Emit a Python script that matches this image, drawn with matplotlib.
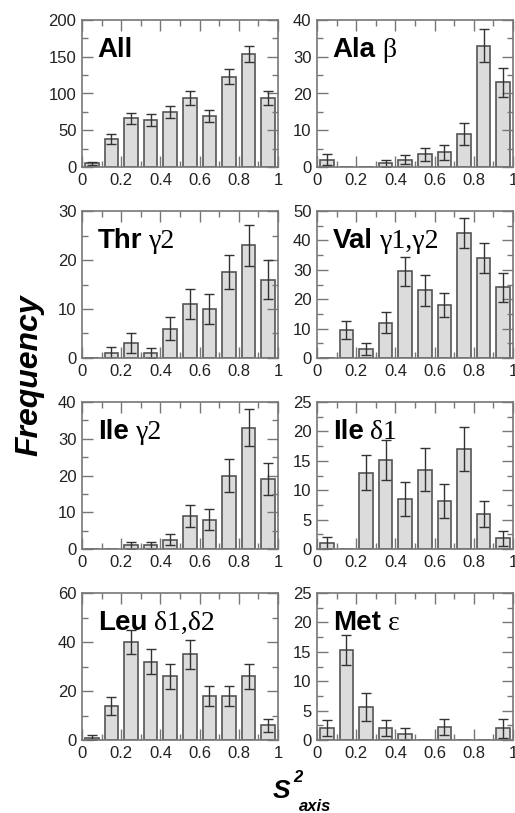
import matplotlib
matplotlib.use('Agg')
import matplotlib.pyplot as plt
from matplotlib.ticker import MultipleLocator, FuncFormatter
import numpy as np

plt.rcParams['font.family'] = 'Liberation Sans'

# ------------- Data ------------- #
bin_centers = np.arange(0.05, 1.0, 0.1)

all_counts = [5, 38, 66, 64, 75, 94, 69, 123, 154, 94]
all_err = [2, 7, 8, 8, 8, 9, 8, 10, 11, 9]

ala_counts = [2, 0, 0, 1, 2, 3.5, 4, 9, 33, 23]
ala_err = [1.5, 0, 0, 1, 1.3, 1.8, 2, 3, 4.5, 4]

thr_counts = [0, 1, 3, 1, 6, 11, 10, 17.5, 23, 16]
thr_err = [0, 1.3, 2, 1, 2.4, 3, 3, 3.5, 4.2, 4]

val_counts = [0, 9.5, 3, 12, 29.5, 23, 18, 42.5, 34, 24]
val_err = [0, 3, 2, 3.5, 5, 5.3, 4, 5, 5, 5]

ileg_counts = [0, 0, 1, 1, 2.5, 9, 8, 20, 33, 19]
ileg_err = [0, 0, 1, 1, 1.5, 3, 2.8, 4.5, 5, 4.3]

iled_counts = [1, 0, 13, 15.2, 8.5, 13.5, 8.2, 17, 6, 1.8]
iled_err = [1, 0, 3, 3.4, 2.9, 3.6, 2.9, 3.8, 2.2, 1.3]

leu_counts = [1, 14, 40, 32, 26, 35, 18, 18, 26, 6]
leu_err = [1, 3.7, 5, 5, 5, 6, 4, 4, 5, 2.7]

met_counts = [2, 15.3, 5.6, 2, 1, 0, 2.2, 0, 0, 2]
met_err = [1.4, 2.5, 2.4, 1.4, 1, 0, 1.4, 0, 0, 1.6]

names = ['All', 'Ala', 'Thr', 'Val', 'Ile', 'Ile', 'Leu', 'Met']
atoms = ['', '\u03b2', '\u03b32', '\u03b31,\u03b32', '\u03b32', '\u03b41', '\u03b41,\u03b42', '\u03b5']
counts = [all_counts, ala_counts, thr_counts, val_counts, ileg_counts, iled_counts, leu_counts, met_counts]
errors = [all_err, ala_err, thr_err, val_err, ileg_err, iled_err, leu_err, met_err]
ymax = [200, 40, 30, 50, 40, 25, 60, 25]
ymajor = [50, 10, 10, 10, 10, 5, 20, 5]

# ------------- Plot Setup ------------- #
fig = plt.figure(figsize=(5.15, 8.13), dpi=100)

lefts = [82 / 515, 317 / 515]
width = 196 / 515
height = 147 / 813
bottoms = [1 - 167 / 813, 1 - 358 / 813, 1 - 549 / 813, 1 - 740 / 813]

for i in range(8):
    row, col = divmod(i, 2)
    ax = fig.add_axes([lefts[col], bottoms[row], width, height])
    c = np.array(counts[i], dtype=float)
    e = np.array(errors[i], dtype=float)
    ax.bar(bin_centers, c, width=0.07, color='#dcdcdc', edgecolor='#555555', linewidth=1.2, zorder=1)
    m = e > 0
    ax.errorbar(bin_centers[m], c[m], yerr=e[m], fmt='none', ecolor='#333333',
                elinewidth=1, capsize=3.5, capthick=1, zorder=2)
    ax.set_xlim(0, 1)
    ax.set_ylim(0, ymax[i])
    ax.xaxis.set_major_locator(MultipleLocator(0.2))
    ax.xaxis.set_minor_locator(MultipleLocator(0.1))
    ax.xaxis.set_major_formatter(FuncFormatter(lambda v, p: '%g' % round(v, 2)))
    ax.yaxis.set_major_locator(MultipleLocator(ymajor[i]))
    ax.yaxis.set_minor_locator(MultipleLocator(ymajor[i] / 2))
    ax.tick_params(which='both', direction='in', top=True, right=True, color='#777777',
                   width=1, labelsize=12, labelcolor='#222222')
    ax.tick_params(which='major', length=8, pad=4)
    ax.tick_params(which='minor', length=4.5)
    for s in ax.spines.values():
        s.set_color('#777777')
        s.set_linewidth(1.2)

    t = ax.text(0.08, 0.75, names[i], transform=ax.transAxes, fontsize=20,
                fontweight='bold', va='baseline', ha='left', zorder=5)
    if atoms[i]:
        ax.annotate(atoms[i], xy=(1, 0), xycoords=t, xytext=(5, 0), textcoords='offset points',
                    fontsize=20, family='Liberation Serif', va='bottom', ha='left', zorder=5)

fig.text(29 / 515, 0.539, 'Frequency', rotation=90, fontsize=23, fontweight='bold',
         fontstyle='italic', ha='center', va='center')
fig.text(273 / 515, 1 - 798 / 813, 'S', fontsize=19, fontweight='bold', fontstyle='italic', va='baseline')
fig.text(293 / 515, 1 - 782 / 813, '2', fontsize=12, fontweight='bold', fontstyle='italic', va='baseline')
fig.text(299 / 515, 1 - 811 / 813, 'axis', fontsize=12, fontweight='bold', fontstyle='italic', va='baseline')

# ------------- Save plot ------------- #
fig.savefig('out.png', dpi=100)
